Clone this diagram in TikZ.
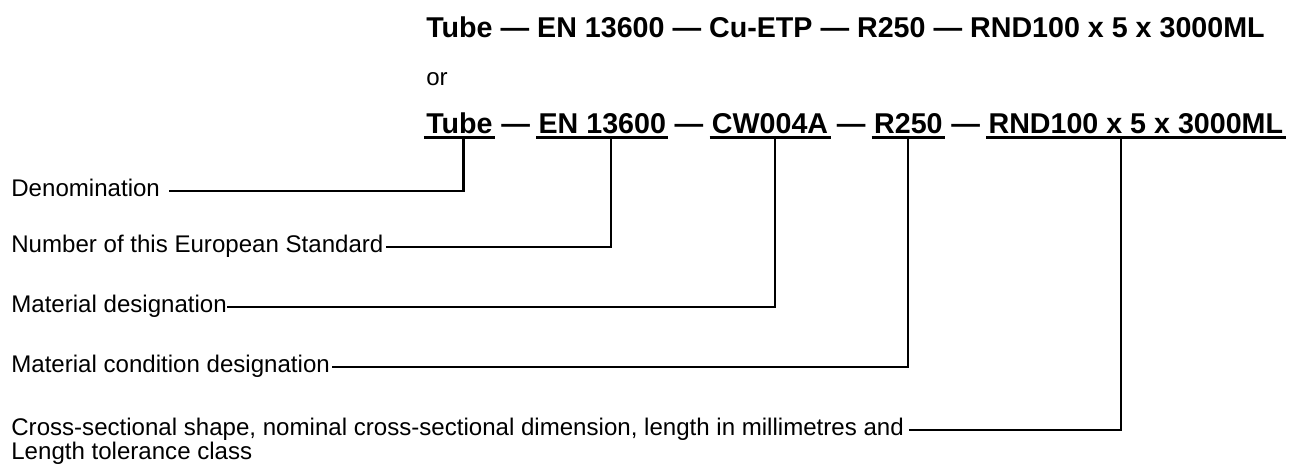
\documentclass[tikz,border=0pt]{standalone}
\usepackage{fontspec}
\setmainfont{Liberation Sans}
\usetikzlibrary{positioning}
\def\colleft{0.22}
\def\coltitle{8.52}

\begin{document}
\begin{tikzpicture}[
		lbl/.style={font=\fontsize{13.7pt}{16pt}\selectfont,inner sep=0pt,anchor=base west},
		ttl/.style={font=\fontsize{16.3pt}{19pt}\selectfont\bfseries,inner sep=0pt,anchor=base west},
		uline/.style={line width=2.2pt},
		lead/.style={line width=1.15pt}]
		\useasboundingbox (0,0) rectangle (26,-9.26);
		
		% ============ 1) Bezeichnung, zwei Schreibweisen ============
		\node[ttl] (ttlone) at (\coltitle,-0.74) {Tube — EN 13600 — Cu-ETP — R250 — RND100 x 5 x 3000ML};
		\node[lbl] (or) at (\coltitle,-1.70) {or};
		
		% zweite Zeile in Teilen, damit jeder Teil unterstrichen werden kann
		\node[ttl] (tube) at (\coltitle,-2.66) {Tube};
		\node[ttl,base right=0pt of tube] (da) {\ —\ \null};
		\node[ttl,base right=0pt of da] (en) {EN 13600};
		\node[ttl,base right=0pt of en] (db) {\ —\ \null};
		\node[ttl,base right=0pt of db] (cw) {CW004A};
		\node[ttl,base right=0pt of cw] (dc) {\ —\ \null};
		\node[ttl,base right=0pt of dc] (rr) {R250};
		\node[ttl,base right=0pt of rr] (dd) {\ —\ \null};
		\node[ttl,base right=0pt of dd] (rnd) {RND100 x 5 x 3000ML};
		
		\draw[uline] ([xshift=-1.2pt,yshift=-0.09cm]tube.base west) -- ([xshift=1.2pt,yshift=-0.09cm]tube.base east);
		\draw[uline] ([xshift=-1.2pt,yshift=-0.09cm]en.base west) -- ([xshift=1.2pt,yshift=-0.09cm]en.base east);
		\draw[uline] ([xshift=-1.2pt,yshift=-0.09cm]cw.base west) -- ([xshift=1.2pt,yshift=-0.09cm]cw.base east);
		\draw[uline] ([xshift=-1.2pt,yshift=-0.09cm]rr.base west) -- ([xshift=1.2pt,yshift=-0.09cm]rr.base east);
		\draw[uline] ([xshift=-1.2pt,yshift=-0.09cm]rnd.base west) -- ([xshift=1.2pt,yshift=-0.09cm]rnd.base east);
		
		% ============ 2) Erklaerungen links ============
		\node[lbl] (den) at (\colleft,-3.92) {Denomination};
		\node[lbl] (num) at (\colleft,-5.04) {Number of this European Standard};
		\node[lbl] (mat) at (\colleft,-6.24) {Material designation};
		\node[lbl] (cond) at (\colleft,-7.44) {Material condition designation};
		\node[lbl] (cross) at (\colleft,-8.70) {Cross-sectional shape, nominal cross-sectional dimension, length in millimetres and};
		\node[lbl] (crosstwo) at (\colleft,-9.18) {Length tolerance class};
		
		% Hinweislinien: waagrecht aus dem Text, dann hinauf zur Unterstreichung
		\draw[lead] ([xshift=0.18cm]den.mid east) -| ([xshift=0.08cm,yshift=-0.09cm]tube.base);
		\draw[lead] ([xshift=0.04cm]num.mid east) -| ([xshift=0.17cm,yshift=-0.09cm]en.base);
		\draw[lead] (mat.mid east) -| ([xshift=0.09cm,yshift=-0.09cm]cw.base);
		\draw[lead] ([xshift=0.04cm]cond.mid east) -| ([yshift=-0.09cm]rr.base);
		\draw[lead] ([xshift=0.1cm]cross.mid east) -| ([xshift=-0.29cm,yshift=-0.09cm]rnd.base);
		
	\end{tikzpicture}
\end{document}
